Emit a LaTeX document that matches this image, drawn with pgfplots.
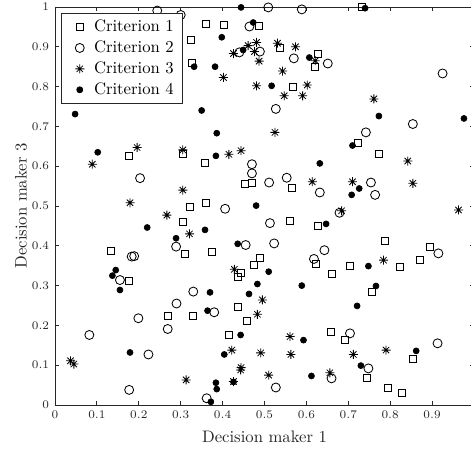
\documentclass[border=0pt]{standalone}
\usepackage{pgfplots}
\usepackage{pgfplotstable}
\pgfplotsset{compat=1.18}
\pgfdeclareplotmark{mstar}{%
  \pgfpathmoveto{\pgfqpoint{0pt}{\pgfplotmarksize}}%
  \pgfpathlineto{\pgfqpoint{0pt}{-\pgfplotmarksize}}%
  \pgfpathmoveto{\pgfqpoint{\pgfplotmarksize}{0pt}}%
  \pgfpathlineto{\pgfqpoint{-\pgfplotmarksize}{0pt}}%
  \pgfpathmoveto{\pgfqpoint{0.7071\pgfplotmarksize}{0.7071\pgfplotmarksize}}%
  \pgfpathlineto{\pgfqpoint{-0.7071\pgfplotmarksize}{-0.7071\pgfplotmarksize}}%
  \pgfpathmoveto{\pgfqpoint{0.7071\pgfplotmarksize}{-0.7071\pgfplotmarksize}}%
  \pgfpathlineto{\pgfqpoint{-0.7071\pgfplotmarksize}{0.7071\pgfplotmarksize}}%
  \pgfusepathqstroke}
\pgfplotstableread{
x y
0.177 0.626
0.305 0.632
0.325 0.918
0.326 0.860
0.322 0.497
0.360 0.957
0.402 0.955
0.487 0.953
0.537 0.898
0.628 0.883
0.621 0.850
0.569 0.800
0.358 0.609
0.453 0.555
0.470 0.559
0.565 0.546
0.360 0.509
0.733 0.999
0.724 0.659
0.773 0.631
0.306 0.461
0.309 0.379
0.134 0.387
0.177 0.312
0.270 0.224
0.330 0.224
0.561 0.462
0.628 0.450
0.623 0.354
0.375 0.384
0.488 0.369
0.475 0.352
0.443 0.331
0.436 0.322
0.660 0.329
0.436 0.247
0.458 0.212
0.416 0.176
0.659 0.183
0.788 0.412
0.895 0.398
0.871 0.364
0.822 0.348
0.704 0.350
0.756 0.283
0.692 0.163
0.855 0.115
0.745 0.069
0.795 0.044
0.827 0.031
}\critA
\pgfplotstableread{
x y
0.244 0.991
0.300 0.980
0.203 0.570
0.509 0.999
0.589 0.994
0.464 0.951
0.440 0.886
0.489 0.888
0.570 0.871
0.651 0.858
0.527 0.744
0.470 0.605
0.470 0.582
0.511 0.559
0.553 0.571
0.632 0.534
0.406 0.493
0.925 0.833
0.854 0.706
0.742 0.685
0.754 0.559
0.764 0.528
0.289 0.398
0.183 0.373
0.189 0.374
0.155 0.314
0.330 0.285
0.290 0.255
0.199 0.218
0.269 0.191
0.082 0.176
0.223 0.127
0.177 0.038
0.513 0.457
0.455 0.402
0.523 0.406
0.643 0.389
0.618 0.367
0.380 0.233
0.660 0.067
0.527 0.044
0.362 0.017
0.679 0.483
0.915 0.381
0.704 0.180
0.913 0.155
0.748 0.092
}\critB
\pgfplotstableread{
x y
0.196 0.647
0.305 0.641
0.089 0.605
0.305 0.540
0.179 0.508
0.481 0.911
0.461 0.903
0.426 0.883
0.476 0.888
0.487 0.864
0.531 0.909
0.574 0.900
0.621 0.865
0.543 0.839
0.402 0.823
0.481 0.802
0.547 0.777
0.602 0.804
0.591 0.777
0.525 0.685
0.415 0.630
0.444 0.639
0.614 0.561
0.761 0.769
0.842 0.613
0.710 0.561
0.854 0.557
0.684 0.488
0.963 0.490
0.267 0.477
0.321 0.430
0.037 0.111
0.045 0.103
0.313 0.063
0.428 0.341
0.495 0.264
0.483 0.228
0.561 0.172
0.422 0.138
0.491 0.131
0.563 0.127
0.444 0.094
0.443 0.088
0.510 0.075
0.656 0.081
0.426 0.059
0.784 0.364
0.712 0.127
0.790 0.138
}\critC
\pgfplotstableread{
x y
0.332 0.850
0.048 0.731
0.102 0.635
0.444 0.999
0.473 0.961
0.398 0.924
0.449 0.892
0.382 0.850
0.607 0.873
0.517 0.802
0.350 0.740
0.386 0.683
0.384 0.626
0.632 0.607
0.480 0.501
0.740 0.997
0.773 0.726
0.976 0.720
0.710 0.652
0.726 0.544
0.708 0.528
0.220 0.446
0.289 0.419
0.145 0.339
0.137 0.325
0.155 0.289
0.179 0.132
0.647 0.455
0.358 0.440
0.436 0.405
0.510 0.335
0.483 0.304
0.589 0.300
0.370 0.283
0.463 0.279
0.364 0.237
0.443 0.176
0.593 0.163
0.404 0.127
0.612 0.073
0.426 0.058
0.384 0.056
0.386 0.040
0.372 0.008
0.748 0.349
0.766 0.299
0.721 0.249
0.862 0.136
0.730 0.099
}\critD
\begin{document}
\begin{tikzpicture}
\begin{axis}[
  name=ax,
  scale only axis,
  width=251.4pt, height=238.8pt,
  xmin=0, xmax=1, ymin=0, ymax=1,
  clip=false,
  axis line style={black!85, line width=0.5pt},
  xtick={0,0.1,0.2,0.3,0.4,0.5,0.6,0.7,0.8,0.9},
  ytick={0,0.1,0.2,0.3,0.4,0.5,0.6,0.7,0.8,0.9,1},
  tick align=inside,
  tick pos=both,
  major tick length=2.5pt,
  tick style={black!85, line width=0.5pt},
  ticklabel style={font=\fontsize{7}{8}\selectfont, text=black!85},
  xticklabel style={/pgf/number format/fixed, /pgf/number format/precision=1},
  yticklabel style={/pgf/number format/fixed, /pgf/number format/precision=1},
  xlabel={Decision maker 1},
  ylabel={Decision maker 3},
  xlabel style={at={(axis description cs:0.5,-0.0804)}, anchor=center, font=\normalsize, text=black!85},
  ylabel style={at={(axis description cs:-0.0811,0.5)}, anchor=center, font=\normalsize, text=black!85},
  legend style={at={(rel axis cs:0,1)}, anchor=north west, xshift=3.5pt, yshift=-3.5pt,
    draw=black!85, fill=white, font=\normalsize, line width=0.5pt},
  legend cell align=left,
  legend image code/.code={\path[draw=none,fill=none] (0cm,0cm) -- (0.515cm,0cm);\draw[#1] plot[only marks] coordinates {(0.285cm,0cm)};},
]
\addplot[only marks, mark=square, mark size=2.1pt, mark options={draw=black, fill=none, line width=0.5pt}] table[x=x,y=y] {\critA};
\addlegendentry{Criterion 1}
\addplot[only marks, mark=o, mark size=2.7pt, mark options={draw=black, fill=none, line width=0.5pt}] table[x=x,y=y] {\critB};
\addlegendentry{Criterion 2}
\addplot[only marks, mark=mstar, mark size=2.7pt, mark options={draw=black, line width=0.5pt}] table[x=x,y=y] {\critC};
\addlegendentry{Criterion 3}
\addplot[only marks, mark=*, mark size=1.8pt, mark options={draw=black, fill=black}] table[x=x,y=y] {\critD};
\addlegendentry{Criterion 4}
\end{axis}
\pgfresetboundingbox
\path[use as bounding box] (-33pt,-25.8pt) rectangle (249.6pt,243pt);
\end{tikzpicture}
\end{document}
